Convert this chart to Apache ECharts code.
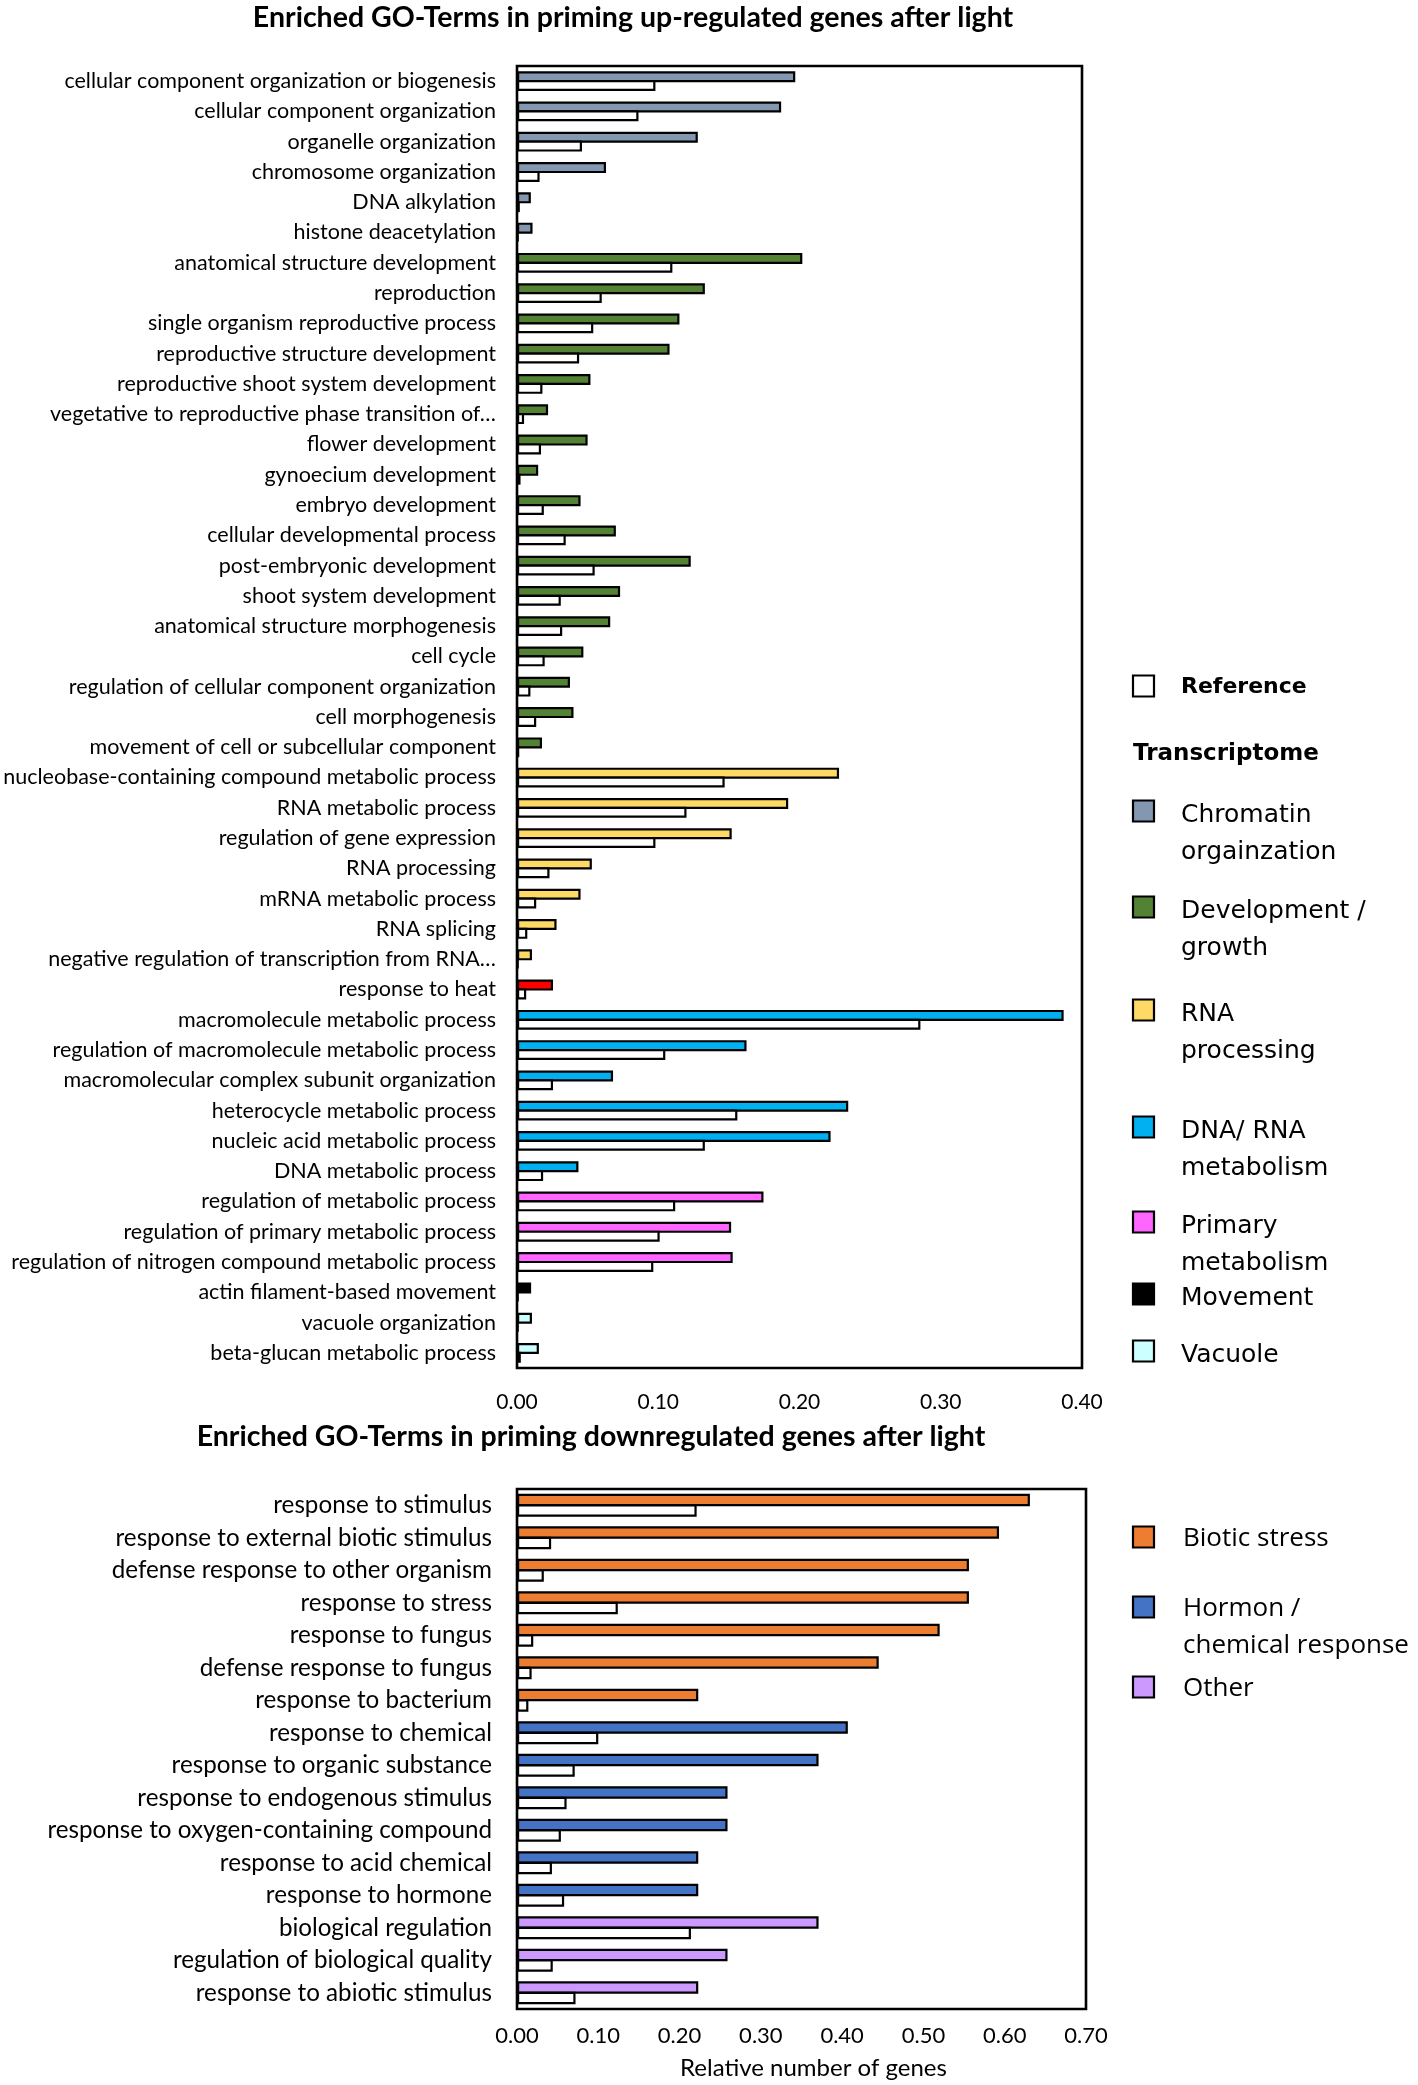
<!DOCTYPE html>
<html><head><meta charset="utf-8">
<script src="https://cdn.jsdelivr.net/npm/echarts@6.0.0/dist/echarts.min.js"></script>
<style>html,body{margin:0;padding:0;background:#fff}#c{width:1418px;height:2085px}</style>
</head><body><div id="c"></div>
<script>
// ---------- DATA ----------
const upCategories = [
  'cellular component organization or biogenesis','cellular component organization','organelle organization','chromosome organization','DNA alkylation','histone deacetylation',
  'anatomical structure development','reproduction','single organism reproductive process','reproductive structure development','reproductive shoot system development','vegetative to reproductive phase transition of…','flower development','gynoecium development','embryo development','cellular developmental process','post-embryonic development','shoot system development','anatomical structure morphogenesis','cell cycle','regulation of cellular component organization','cell morphogenesis','movement of cell or subcellular component',
  'nucleobase-containing compound metabolic process','RNA metabolic process','regulation of gene expression','RNA processing','mRNA metabolic process','RNA splicing','negative regulation of transcription from RNA…',
  'response to heat',
  'macromolecule metabolic process','regulation of macromolecule metabolic process','macromolecular complex subunit organization','heterocycle metabolic process','nucleic acid metabolic process','DNA metabolic process',
  'regulation of metabolic process','regulation of primary metabolic process','regulation of nitrogen compound metabolic process',
  'actin filament-based movement','vacuole organization','beta-glucan metabolic process'
];
const upGroups = [
  'chromatin','chromatin','chromatin','chromatin','chromatin','chromatin',
  'development','development','development','development','development','development','development','development','development','development','development','development','development','development','development','development','development',
  'rna','rna','rna','rna','rna','rna','rna',
  'heat',
  'dnarna','dnarna','dnarna','dnarna','dnarna','dnarna',
  'primary','primary','primary',
  'movement','vacuole','vacuole'
];
const upTranscriptome = [0.197,0.187,0.128,0.063,0.0098,0.011,
  0.202,0.133,0.115,0.108,0.052,0.022,0.050,0.015,0.045,0.070,0.123,0.073,0.066,0.047,0.0375,0.040,0.0177,
  0.228,0.192,0.152,0.053,0.045,0.028,0.0106,
  0.0255,
  0.387,0.1625,0.068,0.2345,0.222,0.0435,
  0.1745,0.1516,0.1527,
  0.010,0.0106,0.0155];
const upReference = [0.098,0.086,0.046,0.016,0.002,0.001,
  0.110,0.060,0.054,0.044,0.018,0.005,0.017,0.0025,0.019,0.0345,0.055,0.031,0.032,0.0196,0.0095,0.0136,0.0016,
  0.147,0.120,0.098,0.023,0.0136,0.0073,0.001,
  0.0065,
  0.2856,0.105,0.0255,0.156,0.133,0.0185,
  0.112,0.101,0.0965,
  0.001,0.001,0.0027];
const upTicks = [0.00,0.10,0.20,0.30,0.40];

const downCategories = [
  'response to stimulus','response to external biotic stimulus','defense response to other organism','response to stress','response to fungus','defense response to fungus','response to bacterium',
  'response to chemical','response to organic substance','response to endogenous stimulus','response to oxygen-containing compound','response to acid chemical','response to hormone',
  'biological regulation','regulation of biological quality','response to abiotic stimulus'
];
const downGroups = ['biotic','biotic','biotic','biotic','biotic','biotic','biotic',
  'hormon','hormon','hormon','hormon','hormon','hormon',
  'other','other','other'];
const downTranscriptome = [0.631,0.593,0.556,0.556,0.520,0.445,0.223,0.407,0.371,0.259,0.259,0.223,0.223,0.371,0.259,0.223];
const downReference = [0.221,0.042,0.033,0.124,0.020,0.018,0.014,0.100,0.071,0.061,0.054,0.043,0.058,0.214,0.044,0.072];
const downTicks = [0.00,0.10,0.20,0.30,0.40,0.50,0.60,0.70];

const upLegend = [
  {group:'chromatin', text:'Chromatin\norgainzation'},
  {group:'development', text:'Development /\ngrowth'},
  {group:'rna', text:'RNA\nprocessing'},
  {group:'dnarna', text:'DNA/ RNA\nmetabolism'},
  {group:'primary', text:'Primary\nmetabolism'},
  {group:'movement', text:'Movement'},
  {group:'vacuole', text:'Vacuole'}
];
const downLegend = [
  {group:'biotic', text:'Biotic stress'},
  {group:'hormon', text:'Hormon /\nchemical response'},
  {group:'other', text:'Other'}
];

// ---------- STYLE ----------
const groupColors = {
  chromatin:'#8497B0', development:'#548235', rna:'#FFD966', heat:'#FF0000',
  dnarna:'#00B0F0', primary:'#FF66FF', movement:'#000000', vacuole:'#CCFFFF',
  biotic:'#ED7D31', hormon:'#4472C4', other:'#CC99FF'
};
const FONT = 'Lato';
const LFONT = 'DejaVu Sans';

const chart = echarts.init(document.getElementById('c'), null, {renderer:'canvas'});

function xAxisFor(ticks, gridIndex, extra) {
  return Object.assign({
    type:'value', gridIndex,
    min: ticks[0], max: ticks[ticks.length-1], interval: +(ticks[1]-ticks[0]).toFixed(4),
    splitLine:{show:false}, axisTick:{show:false},
    axisLine:{show:true, lineStyle:{color:'#000', width:2}},
    axisLabel:{color:'#000', fontFamily:FONT, fontSize:21, margin:24,
      formatter:v=>v.toFixed(2)}
  }, extra||{});
}
function yAxisFor(cats, gridIndex, fs, margin) {
  return {
    type:'category', gridIndex, data:cats, inverse:true,
    axisLine:{show:true, lineStyle:{color:'#000', width:2}},
    axisTick:{show:false},
    axisLabel:{color:'#000', fontFamily:FONT, fontSize:fs, margin:margin, interval:0}
  };
}
function barSeries(name, vals, groups, idx, bw, gap) {
  return {
    name, type:'bar', xAxisIndex:idx, yAxisIndex:idx,
    barWidth:bw, barGap:gap,
    data: vals.map((v,i)=>({value:v, itemStyle:{color: groups ? groupColors[groups[i]] : '#FFFFFF'}})),
    itemStyle:{borderColor:'#000', borderWidth:2.2},
    emphasis:{disabled:true}
  };
}

const graphics = [];
function sq(x, y, color) {
  graphics.push({type:'rect', shape:{x:x, y:y-10.5, width:21, height:21},
    style:{fill:color, stroke:'#000', lineWidth:2.2}});
}
// top legend
sq(1133, 686, '#FFFFFF');
graphics.push({type:'text', x:1181, y:687, style:{text:'Reference', font:'bold 22px "'+LFONT+'"', fill:'#000', verticalAlign:'middle'}});
graphics.push({type:'text', x:1133, y:754, style:{text:'Transcriptome', font:'bold 23px "'+LFONT+'"', fill:'#000', verticalAlign:'middle'}});
const upLegY = [811, 907, 1010, 1127, 1222, 1294, 1351];
upLegend.forEach((e,i)=>{
  sq(1133, upLegY[i], groupColors[e.group]);
  graphics.push({type:'text', x:1181, y:upLegY[i]-14, style:{text:e.text, font:'25px "'+LFONT+'"', fill:'#000', verticalAlign:'top', lineHeight:37}});
});
const downLegY = [1537, 1607, 1687];
downLegend.forEach((e,i)=>{
  sq(1133, downLegY[i], groupColors[e.group]);
  graphics.push({type:'text', x:1183, y:downLegY[i]-17, style:{text:e.text, font:'26px "Open Sans"', fill:'#000', verticalAlign:'top', lineHeight:37}});
});

const option = {
  animation:false,
  backgroundColor:'#fff',
  title:[
    {text:'Enriched GO-Terms in priming up-regulated genes after light', left:628, top:-2, textAlign:'center',
      textStyle:{fontFamily:FONT, fontWeight:'bold', fontSize:28.5, color:'#000'}},
    {text:'Enriched GO-Terms in priming downregulated genes after light', left:586, top:1417, textAlign:'center',
      textStyle:{fontFamily:FONT, fontWeight:'bold', fontSize:28.5, color:'#000'}}
  ],
  grid:[
    {left:517, top:66, width:565, height:1302, show:true, borderColor:'#000', borderWidth:2.6, containLabel:false},
    {left:517, top:1489, width:569, height:520, show:true, borderColor:'#000', borderWidth:2.6, containLabel:false}
  ],
  xAxis:[
    xAxisFor(upTicks, 0),
    xAxisFor(downTicks, 1, {name:'Relative number of genes', nameLocation:'middle', nameGap:47,
      nameTextStyle:{fontFamily:FONT, fontSize:24, color:'#000', padding:[0,0,0,24]},
      axisLabel:{color:'#000', fontFamily:FONT, fontSize:22, margin:16, formatter:v=>v.toFixed(2)}})
  ],
  yAxis:[
    yAxisFor(upCategories, 0, 21.5, 21),
    yAxisFor(downCategories, 1, 24.2, 25)
  ],
  series:[
    barSeries('Transcriptome', upTranscriptome, upGroups, 0, 11, '-20%'),
    barSeries('Reference', upReference, null, 0, 11, '-20%'),
    barSeries('Transcriptome', downTranscriptome, downGroups, 1, 12.5, '-17%'),
    barSeries('Reference', downReference, null, 1, 12.5, '-17%')
  ],
  graphic: graphics
};
chart.setOption(option);
</script>
</body></html>
